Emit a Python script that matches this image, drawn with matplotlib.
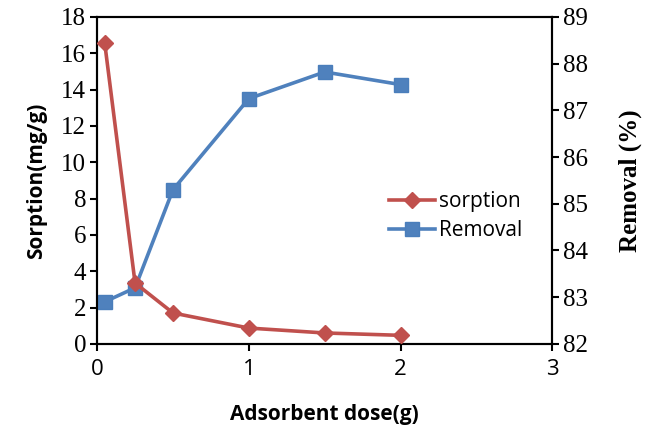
import matplotlib
matplotlib.use('Agg')
import matplotlib.pyplot as plt

plt.rcParams['font.family'] = ['Liberation Serif', 'DejaVu Serif']

# data
dose = [0.05, 0.25, 0.5, 1.0, 1.5, 2.0]
sorption = [16.55, 3.35, 1.7, 0.87, 0.6, 0.47]
removal = [82.9, 83.2, 85.3, 87.25, 87.82, 87.55]

RED = '#C0504D'
BLUE = '#4F81BD'
SERIF = 'Liberation Serif'
SANS = 'Open Sans'

fig = plt.figure(figsize=(6.52, 4.32), dpi=100)
ax = fig.add_axes([0.149, 0.204, 0.698, 0.757])
ax2 = ax.twinx()

l1, = ax.plot(dose, sorption, '-D', color=RED, lw=2.6, markersize=8,
              label='sorption', zorder=3)
l2, = ax2.plot(dose, removal, '-s', color=BLUE, lw=2.6, markersize=10,
               markeredgecolor='#4A7EBB', label='Removal', zorder=3)
ax.set_zorder(ax2.get_zorder() + 1)
ax.patch.set_visible(False)

ax.set_xlim(0, 3)
ax.set_ylim(0, 18)
ax2.set_ylim(82, 89)
ax.set_xticks([0, 1, 2, 3])
ax.set_yticks(range(0, 19, 2))
ax2.set_yticks(range(82, 90))

for a in (ax, ax2):
    for s in a.spines.values():
        s.set_linewidth(1.5)
        s.set_color('black')
    a.tick_params(direction='out', length=5, width=1.5)

ax.tick_params(axis='x', labelsize=16, pad=6, labelfontfamily=SANS)
ax.tick_params(axis='y', labelsize=18, pad=3, labelfontfamily=SERIF)
ax2.tick_params(axis='y', labelsize=18, pad=3, labelfontfamily=SERIF)

ax.set_ylabel('Sorption(mg/g)', family=SANS, fontsize=15, fontweight='bold',
              labelpad=10)
ax2.set_ylabel('Removal (%)', family=SERIF, fontsize=18, fontweight='bold',
               labelpad=22)
ax.set_xlabel('Adsorbent dose(g)', family=SANS, fontsize=15, fontweight='bold',
              labelpad=17)

ax.legend([l1, l2], ['sorption', 'Removal'], loc='center left',
          bbox_to_anchor=(0.6, 0.39), frameon=False,
          prop={'family': SANS, 'size': 15}, handlelength=2.2,
          handletextpad=0.2, labelspacing=0.4)

plt.savefig('out.png', dpi=100)
